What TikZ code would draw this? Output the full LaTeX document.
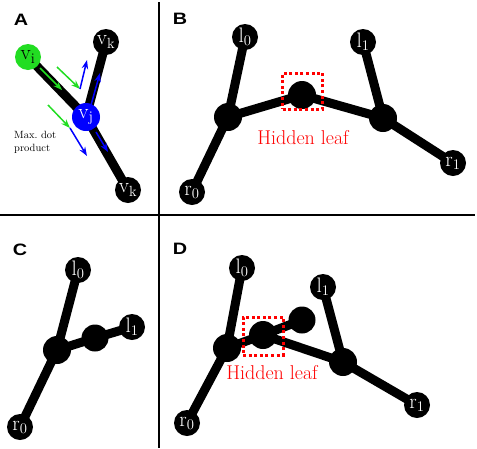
\RequirePackage{fix-cm}
\documentclass[tikz,border=0pt]{standalone}
\usepackage{fontspec}
\usepackage{tikz}
\usepackage{xcolor}
\newfontfamily\panelfont{Liberation Sans}
\usetikzlibrary{positioning,arrows.meta,backgrounds}

\definecolor{vgreen}{RGB}{34,221,34}
\tikzset{
  atom/.style={circle,fill=black,minimum size=26pt,inner sep=0pt,text=white,font=\fontsize{21}{21}\selectfont},
  hub/.style={circle,fill=black,minimum size=28pt,inner sep=0pt},
  bond/.style={line width=9pt},
  hidbox/.style={draw=red,line width=3pt,dash pattern=on 3pt off 2.6pt,minimum width=40pt,minimum height=36pt,inner sep=0pt},
  hidtext/.style={text=red,inner sep=0pt,font=\fontsize{20}{20}\selectfont},
  panel/.style={inner sep=0pt,font=\panelfont\bfseries\fontsize{16.5}{16.5}\selectfont},
  vec/.style={line width=1.5pt,-{Stealth[length=9pt,width=6.5pt]}}
}

\begin{document}
\begin{tikzpicture}[x=1pt,y=-1pt]
  \useasboundingbox (0,0) rectangle (477,448);
  % frame
  \draw[line width=1.5pt] (159,2) -- (159,448);
  \draw[line width=1.5pt] (0,215) -- (475,215);
  \node[panel] (pa) at (21,20) {\scalebox{1.2}[1]{A}};
  \node[panel] (pb) at (180,19) {\scalebox{1.2}[1]{B}};
  \node[panel] (pc) at (20,250) {\scalebox{1.2}[1]{C}};
  \node[panel] (pd) at (180,249) {\scalebox{1.2}[1]{D}};

  % A
  \node[atom,fill=vgreen,text=black] (vi) at (28,57) {$\mathrm{v}_\mathrm{i}$};
  \node[atom] (vka) at (106,42) {$\mathrm{v}_\mathrm{k}$};
  \node[atom,fill=blue,minimum size=28pt] (vj) at (86,117) {$\mathrm{v}_\mathrm{j}$};
  \node[atom] (vkb) at (128,190) {$\mathrm{v}_\mathrm{k}$};
  \begin{scope}[on background layer]
    \foreach \a/\b in {vi/vj,vj/vka,vj/vkb}
      \draw[bond] (\a.center) -- (\b.center);
  \end{scope}
  \coordinate (g1s) at (40,68);  \coordinate (g1e) at (62,90);
  \coordinate (g2s) at (57,67);  \coordinate (g2e) at (80,89);
  \coordinate (g3s) at (48,105); \coordinate (g3e) at (70,128);
  \coordinate (b1e) at (87,60);
  \coordinate (b2s) at (91,105); \coordinate (b2e) at (100,73);
  \coordinate (b3e) at (87,156);
  \coordinate (b4s) at (96,132); \coordinate (b4e) at (108,152);
  \foreach \s/\e in {g1s/g1e,g2s/g2e,g3s/g3e}
    \draw[vec,vgreen] (\s) -- (\e);
  \foreach \s/\e in {g2e/b1e,b2s/b2e,g3e/b3e,b4s/b4e}
    \draw[vec,blue] (\s) -- (\e);
  \node[anchor=west,align=left,inner sep=0pt,font=\fontsize{10.5}{13}\selectfont] (dotlbl) at (14,142) {Max.\ dot\\product};

  % B
  \node[atom] (bl0) at (245,37) {$\mathrm{l}_0$};
  \node[atom] (bl1) at (363,42) {$\mathrm{l}_1$};
  \node[hub] (bja) at (228,117) {};
  \node[hub] (bhid) at (302,95) {};
  \node[hub] (bjb) at (383,118) {};
  \node[atom] (br0) at (192,192) {$\mathrm{r}_0$};
  \node[atom] (br1) at (453,163) {$\mathrm{r}_1$};
  \begin{scope}[on background layer]
    \foreach \a/\b in {bl0/bja,bja/br0,bja/bhid,bhid/bjb,bjb/bl1,bjb/br1}
      \draw[bond] (\a.center) -- (\b.center);
  \end{scope}
  \node[hidbox] (bbox) at (302.5,91) {};
  \node[hidtext] (btext) at (303,138) {Hidden leaf};

  % C
  \node[atom] (cl0) at (78,270) {$\mathrm{l}_0$};
  \node[atom] (cl1) at (132,327) {$\mathrm{l}_1$};
  \node[hub] (cj) at (57,350) {};
  \node[hub,minimum size=27pt] (cm) at (95,338) {};
  \node[atom] (cr0) at (20,427) {$\mathrm{r}_0$};
  \begin{scope}[on background layer]
    \foreach \a/\b in {cl0/cj,cj/cr0,cj/cm,cm/cl1}
      \draw[bond] (\a.center) -- (\b.center);
  \end{scope}

  % D
  \node[atom] (dl0) at (242,268) {$\mathrm{l}_0$};
  \node[atom] (dl1) at (323,287) {$\mathrm{l}_1$};
  \node[hub] (dja) at (227,348) {};
  \node[hub] (dhid) at (263,335) {};
  \node[hub,minimum size=27pt] (dext) at (302,320) {};
  \node[hub] (djb) at (343,362) {};
  \node[atom] (dr0) at (187,423) {$\mathrm{r}_0$};
  \node[atom] (dr1) at (417,405) {$\mathrm{r}_1$};
  \begin{scope}[on background layer]
    \foreach \a/\b in {dl0/dja,dja/dr0,dja/dhid,dhid/dext,dhid/djb,djb/dl1,djb/dr1}
      \draw[bond] (\a.center) -- (\b.center);
  \end{scope}
  \node[hidbox,minimum height=38pt] (dbox) at (263,336) {};
  \node[hidtext] (dtext) at (272,373) {Hidden leaf};
\end{tikzpicture}
\end{document}
